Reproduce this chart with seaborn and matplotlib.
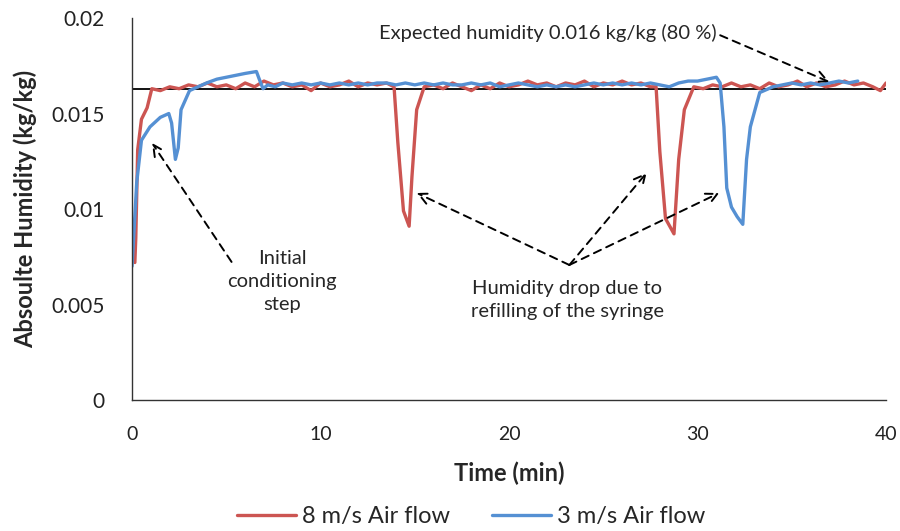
import seaborn as sns
import pandas as pd
import matplotlib.pyplot as plt

# 8 m/s air flow
t_fast = [0.15, 0.2, 0.3, 0.5, 0.8, 1.05, 1.5, 2.0, 2.5, 3.0, 3.5, 4.0, 4.5, 5.0, 5.5, 6.0, 6.5, 7.0,
          7.5, 8.0, 8.5, 9.0, 9.5, 10.0, 10.5, 11.0, 11.5, 12.0, 12.5, 13.0, 13.5, 13.9, 14.1, 14.4,
          14.7, 14.85, 15.1, 15.5, 16.0, 16.5, 17.0, 17.5, 18.0, 18.5, 19.0, 19.5, 20.0, 20.5, 21.0,
          21.5, 22.0, 22.5, 23.0, 23.5, 24.0, 24.5, 25.0, 25.5, 26.0, 26.5, 27.0, 27.5, 27.8, 28.0,
          28.3, 28.75, 29.0, 29.3, 29.8, 30.3, 30.8, 31.3, 31.8, 32.3, 32.8, 33.3, 33.8, 34.3, 34.8,
          35.3, 35.8, 36.3, 36.8, 37.3, 37.8, 38.3, 38.8, 39.3, 39.7, 40.0]
h_fast = [0.0072, 0.0085, 0.0131, 0.0147, 0.0153, 0.0163, 0.0162, 0.0164, 0.0163, 0.0165, 0.0164,
          0.0166, 0.0164, 0.0165, 0.0163, 0.0166, 0.0164, 0.0167, 0.0165, 0.0166, 0.0164, 0.0165,
          0.0162, 0.0166, 0.0164, 0.0165, 0.0167, 0.0164, 0.0166, 0.0165, 0.0166, 0.0164, 0.0135,
          0.0099, 0.0091, 0.0117, 0.0152, 0.0164, 0.0165, 0.0163, 0.0166, 0.0164, 0.0162, 0.0165,
          0.0163, 0.0166, 0.0164, 0.0165, 0.0167, 0.0165, 0.0166, 0.0164, 0.0166, 0.0165, 0.0167,
          0.0164, 0.0166, 0.0165, 0.0167, 0.0165, 0.0166, 0.0164, 0.0164, 0.0130, 0.0095, 0.0087,
          0.0126, 0.0152, 0.0164, 0.0163, 0.0165, 0.0164, 0.0166, 0.0164, 0.0165, 0.0163, 0.0166,
          0.0164, 0.0165, 0.0167, 0.0164, 0.0166, 0.0164, 0.0165, 0.0167, 0.0165, 0.0166, 0.0164,
          0.0162, 0.0166]

# 3 m/s air flow
t_slow = [0.0, 0.25, 0.5, 0.95, 1.5, 1.95, 2.1, 2.3, 2.45, 2.6, 3.05, 3.5, 3.95, 4.5, 5.0, 5.5, 6.0,
          6.6, 6.75, 6.95, 7.2, 7.6, 8.0, 8.5, 9.0, 9.5, 10.0, 10.5, 11.0, 11.5, 12.0, 12.5, 13.0,
          13.5, 14.0, 14.5, 15.0, 15.5, 16.0, 16.5, 17.0, 17.5, 18.0, 18.5, 19.0, 19.5, 20.0, 20.5,
          21.0, 21.5, 22.0, 22.5, 23.0, 23.5, 24.0, 24.5, 25.0, 25.5, 26.0, 26.5, 27.0, 27.5, 28.0,
          28.5, 29.0, 29.5, 30.0, 30.5, 31.0, 31.2, 31.4, 31.55, 31.8, 32.1, 32.4, 32.6, 32.8, 33.3,
          34.0, 34.5, 35.0, 35.5, 36.0, 36.5, 37.0, 37.5, 38.0, 38.5]
h_slow = [0.0070, 0.0114, 0.0136, 0.0143, 0.0148, 0.0150, 0.0145, 0.0126, 0.0132, 0.0152, 0.0162,
          0.0164, 0.0166, 0.0168, 0.0169, 0.0170, 0.0171, 0.0172, 0.0168, 0.0163, 0.0165, 0.0164,
          0.0166, 0.0165, 0.0166, 0.0165, 0.0166, 0.0165, 0.0166, 0.0165, 0.0166, 0.0165, 0.0166,
          0.0166, 0.0165, 0.0166, 0.0165, 0.0166, 0.0165, 0.0166, 0.0165, 0.0165, 0.0166, 0.0165,
          0.0166, 0.0164, 0.0165, 0.0166, 0.0165, 0.0164, 0.0165, 0.0164, 0.0165, 0.0164, 0.0165,
          0.0166, 0.0165, 0.0166, 0.0165, 0.0166, 0.0165, 0.0166, 0.0165, 0.0164, 0.0166, 0.0167,
          0.0167, 0.0168, 0.0169, 0.0166, 0.0143, 0.0111, 0.0101, 0.0096, 0.0092, 0.0126, 0.0143,
          0.0161, 0.0164, 0.0165, 0.0166, 0.0165, 0.0166, 0.0165, 0.0166, 0.0167, 0.0166, 0.0167]

expected = 0.0163
x_ticks = [0, 10, 20, 30, 40]
y_ticks = [0, 0.005, 0.01, 0.015, 0.02]
y_labels = ['0', '0.005', '0.01', '0.015', '0.02']

df = pd.concat([
    pd.DataFrame({'Time': t_fast, 'Humidity': h_fast, 'Series': '8 m/s Air flow'}),
    pd.DataFrame({'Time': t_slow, 'Humidity': h_slow, 'Series': '3 m/s Air flow'}),
])

sns.set_style('white')
plt.rcParams['font.family'] = ['Lato', 'DejaVu Sans']

fig = plt.figure(figsize=(9, 5.31), dpi=100)
ax = fig.add_axes([0.1467, 0.2467, 0.8378, 0.7193])

ax.axhline(expected, color='black', lw=1.3, zorder=1)
sns.lineplot(data=df, x='Time', y='Humidity', hue='Series', sort=False, ax=ax,
             palette=['#CC5552', '#5590D3'], lw=2.4, zorder=2)

ax.set_xlim(0, 40)
ax.set_ylim(0, 0.02)
ax.set_xticks(x_ticks)
ax.set_yticks(y_ticks)
ax.set_yticklabels(y_labels)
ax.tick_params(axis='both', labelsize=15, direction='out', length=6, width=1,
               color='#333333', labelcolor='#222222')
ax.tick_params(axis='x', pad=13, labelsize=14)
ax.tick_params(axis='y', pad=14)
for side in ['top', 'right']:
    ax.spines[side].set_visible(False)
for side in ['left', 'bottom']:
    ax.spines[side].set_color('#333333')
    ax.spines[side].set_linewidth(1)

ax.set_xlabel('Time (min)', fontsize=17, fontweight='bold')
ax.set_ylabel('Absoulte Humidity (kg/kg)', fontsize=17, fontweight='bold')
ax.xaxis.set_label_coords(0.5, -0.162)
ax.yaxis.set_label_coords(-0.126, 0.5)

arrow = dict(arrowstyle='->', linestyle=(0, (4, 3)), color='black', lw=1.4, mutation_scale=20,
             shrinkA=0, shrinkB=0)

ax.text(7.97, 0.0062, 'Initial\nconditioning\nstep', ha='center', va='center',
        fontsize=14.5, linespacing=1.45)
ax.annotate('', xy=(1.06, 0.01346), xytext=(5.28, 0.00723), arrowprops=arrow)

ax.text(23.1, 0.00524, 'Humidity drop due to\nrefilling of the syringe', ha='center', va='center',
        fontsize=14.5, linespacing=1.45)
for tip in [(15.1, 0.01084), (27.3, 0.0119), (31.15, 0.01084)]:
    ax.annotate('', xy=tip, xytext=(23.2, 0.00707), arrowprops=arrow)

ax.text(13.09, 0.0192, 'Expected humidity 0.016 kg/kg (80 %)', ha='left', va='center',
        fontsize=14.5)
ax.annotate('', xy=(37.0, 0.01665), xytext=(31.2, 0.0191), arrowprops=arrow)

handles, labels = ax.get_legend_handles_labels()
ax.legend(handles, labels, loc='center', bbox_to_anchor=(0.45, -0.306), ncol=2,
          frameon=False, fontsize=17, handlelength=2.5, columnspacing=1.8, handletextpad=0.25)

plt.savefig('out.png', dpi=100)
